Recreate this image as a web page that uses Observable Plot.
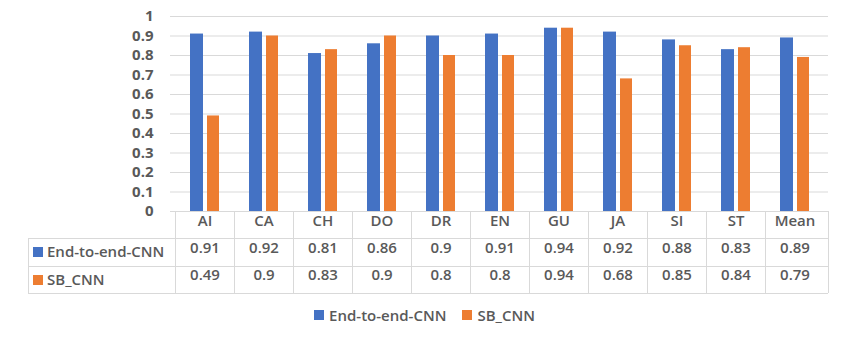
<!DOCTYPE html>
<html>
<head>
<meta charset="utf-8">
<script src="https://cdn.jsdelivr.net/npm/d3@7"></script>
<script src="https://cdn.jsdelivr.net/npm/@observablehq/plot@0.6"></script>
<style>
  html, body { margin: 0; padding: 0; background: #fff; }
  #chart { width: 845px; font-family: "Open Sans", sans-serif; }
  .legend { display: flex; justify-content: center; align-items: center; height: 30px; margin-left: 4px;
            font: 600 15px "Open Sans", sans-serif; color: #595959; gap: 0; }
  .legend .item { display: flex; align-items: center; margin: 0 8px; }
  .legend .sw { width: 10px; height: 10px; margin-right: 5px; display: inline-block; }
</style>
</head>
<body>
<div id="chart"></div>
<script>
const categories = ["AI", "CA", "CH", "DO", "DR", "EN", "GU", "JA", "SI", "ST", "Mean"];
const seriesNames = ["End-to-end-CNN", "SB_CNN"];
const endToEndCNN = [0.91, 0.92, 0.81, 0.86, 0.9, 0.91, 0.94, 0.92, 0.88, 0.83, 0.89];
const sbCNN = [0.49, 0.9, 0.83, 0.9, 0.8, 0.8, 0.94, 0.68, 0.85, 0.84, 0.79];
const yTicks = [0, 0.1, 0.2, 0.3, 0.4, 0.5, 0.6, 0.7, 0.8, 0.9, 1];
const colors = ["#4472C4", "#ED7D31"];

const rowsA = categories.map((c, i) => ({cat: c, series: seriesNames[0], value: endToEndCNN[i]}));
const rowsB = categories.map((c, i) => ({cat: c, series: seriesNames[1], value: sbCNN[i]}));

const textColor = "#595959";
const lineColor = "#d9d9d9";
const rowH = [27, 55, 82]; // table row bottoms below the axis

function tableGrid(index, scales, values, dimensions) {
  const {width, height, marginLeft, marginRight, marginBottom} = dimensions;
  const x0 = marginLeft, x1 = width - marginRight, yb = height - marginBottom;
  const g = d3.create("svg:g").attr("stroke", lineColor).attr("stroke-width", 1).attr("fill", "none");
  const left = 28;
  const p = v => Math.round(v) + 0.5;
  g.append("line").attr("x1", x0).attr("x2", x1).attr("y1", p(yb)).attr("y2", p(yb));
  for (const h of rowH) {
    g.append("line").attr("x1", left).attr("x2", x1).attr("y1", p(yb + h)).attr("y2", p(yb + h));
  }
  for (const c of categories) {
    const xv = p(scales.x(c));
    g.append("line").attr("x1", xv).attr("x2", xv).attr("y1", yb).attr("y2", yb + rowH[2]);
  }
  g.append("line").attr("x1", p(x1)).attr("x2", p(x1)).attr("y1", yb).attr("y2", yb + rowH[2]);
  g.append("line").attr("x1", p(left)).attr("x2", p(left)).attr("y1", yb + rowH[0]).attr("y2", yb + rowH[2]);
  const lab = d3.create("svg:g").attr("text-anchor", "start");
  lab.append(() => g.node());
  seriesNames.forEach((s, i) => {
    const cy = yb + (i === 0 ? (rowH[0] + rowH[1]) / 2 : (rowH[1] + rowH[2]) / 2);
    lab.append("rect").attr("x", 33).attr("y", Math.round(cy - 5)).attr("width", 10).attr("height", 10)
      .attr("fill", scales.color(s));
    lab.append("text").attr("x", 47).attr("y", cy).attr("dy", "0.35em").attr("text-anchor", "start")
      .attr("fill", textColor).attr("font-size", 15).attr("font-weight", 600).text(s);
  });
  return lab.node();
}

const plot = Plot.plot({
  width: 845,
  height: 300,
  marginTop: 16,
  marginBottom: 89,
  marginLeft: 170,
  marginRight: 17,
  style: {fontFamily: "Open Sans, sans-serif", fontSize: "15px", color: textColor, background: "#fff"},
  x: {domain: categories, padding: 0, axis: null},
  y: {domain: [0, 1], axis: null},
  color: {domain: seriesNames, range: colors},
  marks: [
    Plot.gridY(yTicks.slice(1), {stroke: lineColor, strokeOpacity: 1}),
    Plot.axisY(yTicks, {tickSize: 0, tickPadding: 17, fontWeight: "bold", fontSize: 15,
      fill: textColor, tickFormat: d => String(+d.toFixed(1)), label: null}),
    Plot.barY(rowsA, {x: "cat", y: "value", fill: "series", insetLeft: 15, insetRight: 31}),
    Plot.barY(rowsB, {x: "cat", y: "value", fill: "series", insetLeft: 32, insetRight: 15}),
    tableGrid,
    Plot.text(categories, {x: d => d, text: d => d, frameAnchor: "bottom", dy: 14,
      fill: textColor, fontWeight: 600, fontSize: 15}),
    Plot.text(rowsA, {x: "cat", text: d => String(d.value), frameAnchor: "bottom", dy: 41,
      fill: textColor, fontWeight: 600, fontSize: 15}),
    Plot.text(rowsB, {x: "cat", text: d => String(d.value), frameAnchor: "bottom", dy: 68.5,
      fill: textColor, fontWeight: 600, fontSize: 15})
  ]
});

const chart = document.getElementById("chart");
chart.appendChild(plot);

const color = plot.scale("color");
const legend = document.createElement("div");
legend.className = "legend";
color.domain.forEach((s, i) => {
  const item = document.createElement("span");
  item.className = "item";
  const sw = document.createElement("span");
  sw.className = "sw";
  sw.style.background = color.range[i];
  item.appendChild(sw);
  item.appendChild(document.createTextNode(s));
  legend.appendChild(item);
});
chart.appendChild(legend);
</script>
</body>
</html>
